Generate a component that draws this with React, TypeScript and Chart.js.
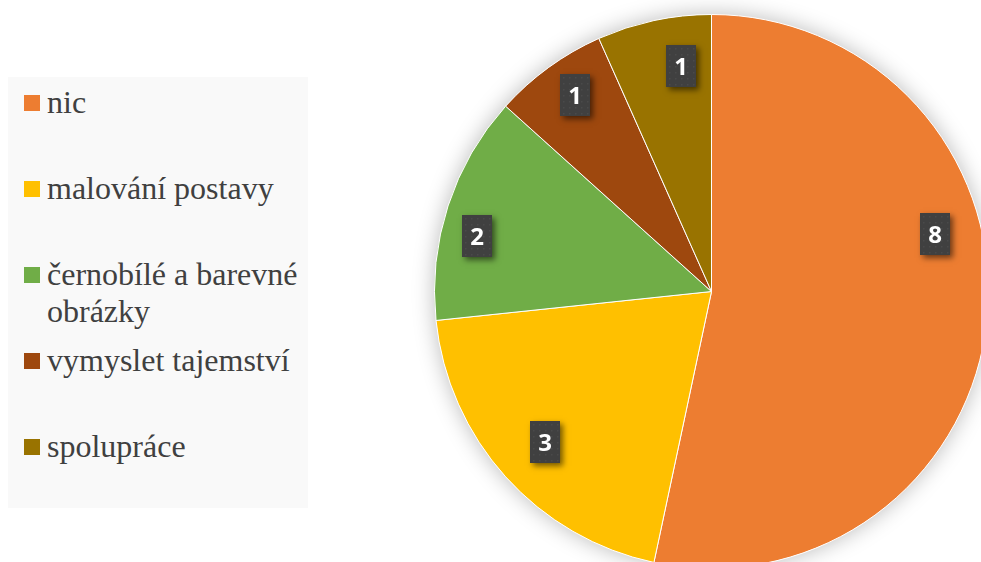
import React, { useEffect, useRef } from "react";
import { Chart, registerables } from "chart.js";
Chart.register(...registerables);

const categories = ["nic", "malování postavy", "černobílé a barevné obrázky", "vymyslet tajemství", "spolupráce"];
const values = [8, 3, 2, 1, 1];
const colors = ["#ED7D31", "#FFC000", "#70AD47", "#9E480E", "#997300"];

// label placement within each slice (fraction of the slice's angle span, fraction of radius)
const LABEL_ANGLE_FRACTION = [0.394, 0.5, 0.4, 0.55, 0.675];
const LABEL_RADIUS_FRACTION = [0.834, 0.81, 0.87, 0.866, 0.82];

const pieShadow = {
  id: "pieShadow",
  beforeDatasetsDraw(chart: any) {
    const arc = chart.getDatasetMeta(0).data[0];
    if (!arc) return;
    const { x, y, outerRadius } = arc.getProps(["x", "y", "outerRadius"], true);
    const ctx = chart.ctx;
    ctx.save();
    ctx.shadowColor = "rgba(0,0,0,0.28)";
    ctx.shadowBlur = 22;
    ctx.beginPath();
    ctx.arc(x, y, outerRadius, 0, Math.PI * 2);
    ctx.fillStyle = "#ffffff";
    ctx.fill();
    ctx.restore();
  },
};

const boxLabels = {
  id: "boxLabels",
  afterDatasetsDraw(chart: any) {
    const ctx = chart.ctx;
    const meta = chart.getDatasetMeta(0);
    const ds = chart.data.datasets[0];
    meta.data.forEach((arc: any, i: number) => {
      const { x, y, startAngle, endAngle, outerRadius } = arc.getProps(
        ["x", "y", "startAngle", "endAngle", "outerRadius"],
        true
      );
      const a = startAngle + LABEL_ANGLE_FRACTION[i] * (endAngle - startAngle);
      const r = outerRadius * LABEL_RADIUS_FRACTION[i];
      const cx = x + Math.cos(a) * r;
      const cy = y + Math.sin(a) * r;
      const w = 30;
      const h = 42;
      const bx = Math.round(cx - w / 2);
      const by = Math.round(cy - h / 2);
      ctx.save();
      ctx.shadowColor = "rgba(0,0,0,0.55)";
      ctx.shadowBlur = 6;
      ctx.shadowOffsetX = 3;
      ctx.shadowOffsetY = 3;
      ctx.fillStyle = "#404040";
      ctx.fillRect(bx, by, w, h);
      ctx.restore();
      ctx.save();
      ctx.fillStyle = "#4a4a4a";
      for (let dy = 3; dy < h; dy += 6) {
        for (let dx = 3; dx < w; dx += 6) {
          ctx.fillRect(bx + dx, by + dy, 1.5, 1.5);
        }
      }
      ctx.fillStyle = "#ffffff";
      ctx.font = "bold 24px 'Open Sans', 'Liberation Sans', sans-serif";
      ctx.textAlign = "center";
      ctx.textBaseline = "alphabetic";
      ctx.fillText(String(ds.data[i]), bx + w / 2, by + h / 2 + 9);
      ctx.restore();
    });
  },
};

export default function App() {
  const ref = useRef<HTMLCanvasElement>(null);
  useEffect(() => {
    if (!ref.current) return;
    const chart = new Chart(ref.current, {
      type: "pie",
      data: {
        labels: categories,
        datasets: [
          {
            data: values,
            backgroundColor: colors,
            borderColor: "#ffffff",
            borderWidth: 1,
          },
        ],
      },
      options: {
        animation: false,
        responsive: false,
        devicePixelRatio: 1,
        layout: { padding: { left: 434, top: 14, right: 11, bottom: 31 } },
        plugins: {
          legend: { display: false },
          tooltip: { enabled: false },
        },
      },
      plugins: [pieShadow, boxLabels],
    });
    return () => chart.destroy();
  }, []);

  return (
    <div
      style={{
        position: "absolute",
        left: 0,
        top: 0,
        width: 981,
        height: 562,
        overflow: "hidden",
        background: "#ffffff",
      }}
    >
      <canvas ref={ref} width={1000} height={600} style={{ display: "block", position: "absolute", left: 0, top: 0 }} />
      <div
        style={{
          position: "absolute",
          left: 8,
          top: 77,
          width: 300,
          height: 431,
          background: "#f9f9f9",
          boxSizing: "border-box",
          paddingTop: 7,
          display: "flex",
          flexDirection: "column",
          overflow: "hidden",
          fontFamily: "'Liberation Serif', 'Times New Roman', serif",
          fontSize: 32,
          lineHeight: "37px",
          color: "#404040",
        }}
      >
        {categories.map((c, i) => (
          <div
            key={c}
            style={{
              position: "relative",
              height: 86,
              flexShrink: 0,
              paddingLeft: 39,
              boxSizing: "border-box",
            }}
          >
            <span
              style={{
                position: "absolute",
                left: 16,
                top: 11,
                width: 16,
                height: 16,
                background: colors[i],
              }}
            />
            {c}
          </div>
        ))}
      </div>
    </div>
  );
}
